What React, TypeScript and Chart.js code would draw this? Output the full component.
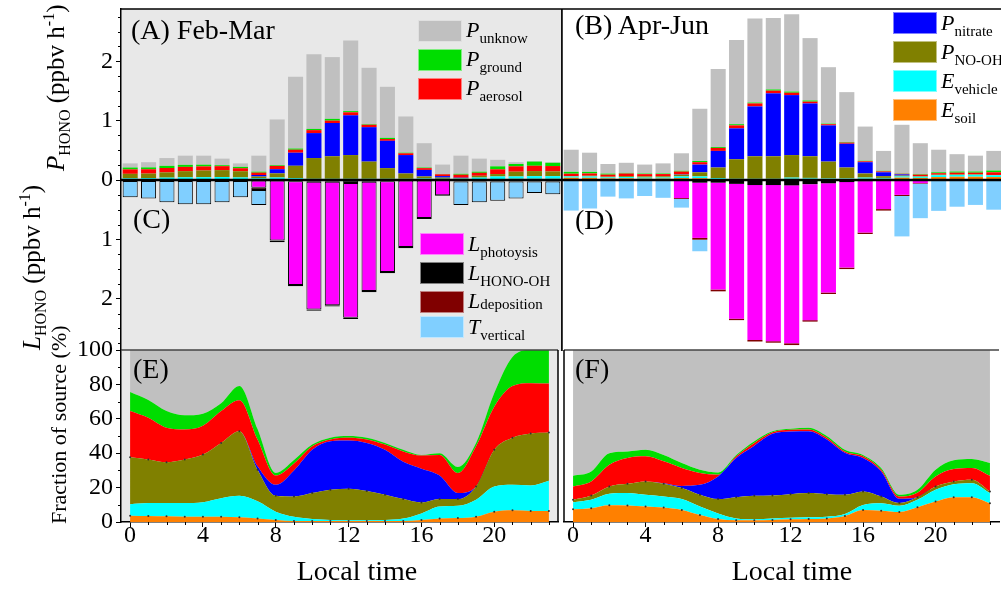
import React, { useEffect, useRef } from "react";
import { Chart, registerables } from "chart.js";

Chart.register(...registerables);

const SERIF = '"Liberation Serif", "Times New Roman", serif';

const HOURS = [0, 1, 2, 3, 4, 5, 6, 7, 8, 9, 10, 11, 12, 13, 14, 15, 16, 17, 18, 19, 20, 21, 22, 23];
const X_MAJOR = [0, 4, 8, 12, 16, 20];
const Y_MAJOR_RATE = [-2, -1, 0, 1, 2];
const Y_MAJOR_FRAC = [0, 20, 40, 60, 80, 100];

// ---- Feb-Mar: HONO production terms (ppbv h-1) ----
const FM_SOIL = [0.010, 0.010, 0.012, 0.013, 0.013, 0.011, 0.008, 0.009, 0.012, 0.010, 0.010, 0.010, 0.010, 0.010, 0.010, 0.010, 0.010, 0.006, 0.009, 0.011, 0.015, 0.020, 0.020, 0.020];
const FM_VEHICLE = [0.018, 0.022, 0.028, 0.032, 0.034, 0.039, 0.035, 0.020, 0.030, 0.020, 0.010, 0.010, 0.010, 0.010, 0.010, 0.010, 0.015, 0.015, 0.015, 0.030, 0.045, 0.040, 0.045, 0.045];
const FM_NO_OH = [0.076, 0.076, 0.088, 0.104, 0.113, 0.116, 0.105, 0.030, 0.070, 0.210, 0.350, 0.380, 0.400, 0.290, 0.180, 0.090, 0.035, 0.020, 0.010, 0.030, 0.040, 0.080, 0.085, 0.080];
const FM_NITRATE = [0, 0, 0, 0, 0, 0, 0, 0.025, 0.070, 0.220, 0.420, 0.560, 0.670, 0.580, 0.460, 0.310, 0.110, 0.025, 0.005, 0, 0, 0, 0, 0];
const FM_AEROSOL = [0.075, 0.073, 0.074, 0.072, 0.069, 0.067, 0.050, 0.040, 0.055, 0.050, 0.050, 0.040, 0.050, 0.040, 0.030, 0.030, 0.030, 0.030, 0.050, 0.050, 0.080, 0.090, 0.090, 0.090];
const FM_GROUND = [0.031, 0.031, 0.036, 0.034, 0.029, 0.016, 0.023, 0.016, 0.012, 0.020, 0.020, 0.030, 0.020, 0.010, 0.020, 0.010, 0.010, 0.004, 0.015, 0.019, 0.050, 0.040, 0.070, 0.055];
const FM_UNKNOWN = [0.070, 0.088, 0.132, 0.155, 0.152, 0.111, 0.059, 0.270, 0.771, 1.210, 1.260, 1.040, 1.190, 0.950, 0.860, 0.610, 0.410, 0.160, 0.306, 0.220, 0.110, 0.030, 0.010, 0.010];

// ---- Feb-Mar: HONO loss / transport terms (ppbv h-1, negative) ----
const FM_L_OH = [-0.003, -0.003, -0.003, -0.003, -0.003, -0.003, -0.003, -0.010, -0.010, -0.020, -0.030, -0.030, -0.050, -0.030, -0.020, -0.010, -0.010, -0.005, -0.005, -0.005, -0.005, -0.005, -0.005, -0.005];
const FM_L_PHOTO = [0, 0, 0, 0, 0, 0, 0, -0.120, -1.010, -1.750, -2.150, -2.080, -2.270, -1.840, -1.530, -1.120, -0.630, -0.250, 0, 0, 0, 0, 0, 0];
const FM_L_DEP = [-0.012, -0.012, -0.015, -0.015, -0.015, -0.015, -0.012, -0.040, -0.030, -0.020, -0.020, -0.020, -0.020, -0.020, -0.020, -0.020, -0.015, -0.015, -0.020, -0.020, -0.020, -0.020, -0.020, -0.020];
const FM_T_VERT = [-0.275, -0.295, -0.357, -0.392, -0.392, -0.357, -0.275, -0.250, 0, 0, 0, 0, 0, 0, 0, 0, 0, 0, -0.395, -0.350, -0.325, -0.285, -0.195, -0.215];

// ---- Apr-Jun: HONO production terms (ppbv h-1) ----
const AJ_SOIL = [0.038, 0.037, 0.026, 0.028, 0.023, 0.024, 0.032, 0.030, 0.015, 0.010, 0.010, 0.010, 0.020, 0.020, 0.020, 0.020, 0.020, 0.020, 0.040, 0.035, 0.050, 0.055, 0.055, 0.050];
const AJ_VEHICLE = [0.021, 0.023, 0.018, 0.021, 0.018, 0.018, 0.028, 0.030, 0.015, 0.010, 0.010, 0.010, 0.020, 0.015, 0.010, 0.010, 0.020, 0.015, 0.020, 0.020, 0.030, 0.030, 0.032, 0.030];
const AJ_NO_OH = [0.007, 0.012, 0.012, 0.016, 0.020, 0.021, 0.029, 0.070, 0.180, 0.330, 0.380, 0.380, 0.380, 0.365, 0.280, 0.180, 0.070, 0.030, 0.015, 0.010, 0.010, 0.008, 0.008, 0.005];
const AJ_NITRATE = [0, 0, 0, 0, 0, 0.001, 0.006, 0.130, 0.280, 0.520, 0.840, 1.060, 1.010, 0.890, 0.610, 0.400, 0.190, 0.065, 0.020, 0, 0, 0, 0, 0];
const AJ_AEROSOL = [0.040, 0.038, 0.034, 0.044, 0.038, 0.036, 0.047, 0.040, 0.050, 0.050, 0.050, 0.045, 0.040, 0.030, 0.020, 0.020, 0.015, 0.015, 0.010, 0.025, 0.025, 0.030, 0.028, 0.045];
const AJ_GROUND = [0.032, 0.027, 0.018, 0.011, 0.010, 0.010, 0.013, 0.020, 0.015, 0.020, 0.015, 0.020, 0.020, 0.020, 0.010, 0.010, 0.010, 0.010, 0.005, 0.010, 0.015, 0.020, 0.020, 0.030];
const AJ_UNKNOWN = [0.372, 0.323, 0.162, 0.170, 0.151, 0.170, 0.295, 0.880, 1.315, 1.420, 1.415, 1.205, 1.300, 1.050, 0.950, 0.840, 0.575, 0.335, 0.820, 0.520, 0.380, 0.292, 0.267, 0.330];

// ---- Apr-Jun: HONO loss / transport terms (ppbv h-1, negative) ----
const AJ_L_OH = [-0.003, -0.003, -0.003, -0.003, -0.003, -0.003, -0.005, -0.045, -0.045, -0.065, -0.085, -0.085, -0.090, -0.070, -0.055, -0.035, -0.020, -0.010, -0.005, -0.003, -0.003, -0.003, -0.003, -0.003];
const AJ_L_PHOTO = [0, 0, 0, 0, 0, 0, -0.300, -0.930, -1.800, -2.270, -2.610, -2.630, -2.660, -2.290, -1.840, -1.440, -0.865, -0.480, -0.245, -0.050, 0, 0, 0, 0];
const AJ_L_DEP = [-0.005, -0.005, -0.005, -0.005, -0.005, -0.007, -0.015, -0.030, -0.030, -0.025, -0.025, -0.025, -0.030, -0.025, -0.025, -0.025, -0.025, -0.025, -0.020, -0.010, -0.010, -0.010, -0.010, -0.010];
const AJ_T_VERT = [-0.507, -0.472, -0.272, -0.302, -0.262, -0.290, -0.145, -0.195, 0, 0, 0, 0, 0, 0, 0, 0, 0, 0, -0.680, -0.580, -0.507, -0.437, -0.407, -0.487];

// ---- Feb-Mar: fraction of each source (%) ----
const FMF_SOIL = [3.7, 3.5, 3.3, 3.1, 3.1, 3.1, 2.7, 2.1, 1.2, 0.6, 0.6, 0.6, 0.6, 0.6, 0.6, 0.6, 1.2, 2.1, 2.3, 3.1, 6.0, 6.8, 6.4, 6.4];
const FMF_VEHICLE = [6.6, 7.5, 7.7, 7.9, 8.4, 10.7, 12.5, 9.9, 4.8, 2.4, 1.2, 0.6, 0.4, 0.4, 0.6, 1.4, 3.8, 6.9, 7.1, 9.9, 14.7, 14.8, 14.8, 17.6];
const FMF_NO_OH = [27.3, 25.3, 23.7, 25.3, 27.7, 32.2, 37.6, 18.4, 9.2, 11.8, 15.0, 17.5, 18.3, 17.0, 14.6, 11.3, 6.3, 4.3, 3.9, 7.7, 21.3, 27.4, 30.3, 28.0];
const FMF_NITRATE = [0, 0, 0, 0, 0, 0, 0, 2.0, 6.4, 15.2, 25.2, 28.3, 28.1, 28.0, 26.2, 21.7, 19.7, 13.7, 3.5, 0, 0, 0, 0, 0];
const FMF_AEROSOL = [26.9, 24.3, 20.1, 17.5, 16.8, 18.5, 18.0, 15.6, 5.4, 4.0, 2.0, 1.0, 1.6, 2.0, 3.0, 6.0, 7.6, 12.0, 11.7, 23.3, 25.0, 30.0, 29.2, 28.5];
const FMF_GROUND = [11.1, 10.4, 9.7, 8.2, 7.0, 4.5, 8.2, 6.0, 1.5, 2.0, 1.0, 1.0, 1.0, 1.0, 1.0, 1.0, 0.4, 1.0, 3.5, 2.0, 8.0, 17.0, 19.3, 19.5];
const FMF_UNKNOWN = [24.4, 29.0, 35.5, 38.0, 37.0, 31.0, 21.0, 46.0, 71.5, 64.0, 55.0, 51.0, 50.0, 51.0, 54.0, 58.0, 61.0, 60.0, 68.0, 54.0, 25.0, 4.0, 0, 0];

// ---- Apr-Jun: fraction of each source (%) ----
const AJF_SOIL = [7.4, 8.0, 9.7, 9.6, 9.0, 8.4, 7.0, 4.1, 1.8, 1.0, 1.0, 1.2, 1.6, 1.8, 2.1, 3.5, 7.0, 6.6, 5.8, 8.6, 11.9, 14.4, 14.4, 10.9];
const AJF_VEHICLE = [4.1, 4.9, 6.7, 7.2, 6.8, 6.4, 6.3, 4.9, 3.2, 1.1, 0.6, 0.9, 0.9, 0.9, 1.0, 1.2, 2.9, 4.3, 3.6, 4.3, 6.8, 7.6, 8.2, 5.9];
const AJF_NO_OH = [1.4, 2.5, 4.3, 5.4, 7.8, 7.4, 6.4, 6.8, 8.3, 12.3, 13.6, 13.3, 13.7, 14.1, 13.1, 11.1, 7.8, 3.9, 1.6, 1.5, 2.0, 1.6, 2.0, 0.9];
const AJF_NITRATE = [0, 0, 0, 0, 0, 0.4, 1.3, 5.8, 13.2, 22.8, 29.2, 35.9, 36.4, 36.0, 31.8, 24.4, 19.5, 14.6, 2.5, 0, 0, 0, 0, 0];
const AJF_AEROSOL = [7.8, 8.2, 12.6, 15.0, 14.6, 12.7, 10.4, 6.9, 1.0, 1.0, 1.6, 0.9, 1.0, 1.0, 1.0, 0.8, 1.0, 1.0, 1.3, 2.6, 5.8, 7.2, 6.8, 9.2];
const AJF_GROUND = [6.2, 5.8, 6.7, 3.8, 3.8, 3.7, 2.9, 1.9, 1.3, 0.8, 1.0, 0.6, 0.6, 1.0, 1.0, 1.0, 0.8, 1.0, 1.0, 1.7, 3.9, 5.1, 5.2, 7.4];
const AJF_UNKNOWN = [73.1, 70.6, 60.0, 59.0, 58.0, 61.0, 65.7, 69.6, 71.2, 61.0, 53.0, 47.2, 45.8, 45.2, 50.0, 58.0, 61.0, 68.6, 84.2, 81.3, 69.6, 64.1, 63.4, 65.7];

const C = {
  soil: "#FF8000",
  vehicle: "#00FFFF",
  noOh: "#808000",
  nitrate: "#0000FF",
  aerosol: "#FF0000",
  ground: "#00DD00",
  unknown: "#C0C0C0",
  lOh: "#000000",
  lPhoto: "#FF00FF",
  lDep: "#800000",
  tVert: "#80CFFF",
};

type Layer = { label: string; color: string; values: number[]; dots?: boolean };

// Panel frames, zero line, background and minor ticks
const decorPlugin: any = {
  id: "decor",
  beforeDraw(chart: any, _a: any, o: any) {
    if (!o || !o.bg) return;
    const { ctx, chartArea: a } = chart;
    ctx.save();
    ctx.fillStyle = o.bg;
    ctx.fillRect(a.left, a.top, a.right - a.left, a.bottom - a.top);
    ctx.restore();
  },
  afterDatasetsDraw(chart: any, _a: any, o: any) {
    if (!o) return;
    const { ctx, chartArea: a, scales } = chart;
    ctx.save();
    if (o.zeroLine) {
      const y = scales.y.getPixelForValue(0);
      ctx.strokeStyle = "#000";
      ctx.lineWidth = 2.4;
      ctx.beginPath();
      ctx.moveTo(a.left, y);
      ctx.lineTo(a.right, y);
      ctx.stroke();
    }
    const edges = o.edges || [];
    for (let i = 0; i < edges.length; i++) {
      const e = edges[i];
      ctx.strokeStyle = e.color;
      ctx.lineWidth = e.width;
      ctx.beginPath();
      if (e.side === "top") { ctx.moveTo(a.left, a.top); ctx.lineTo(a.right, a.top); }
      if (e.side === "bottom") { ctx.moveTo(a.left, a.bottom); ctx.lineTo(a.right, a.bottom); }
      if (e.side === "left") { ctx.moveTo(a.left, a.top); ctx.lineTo(a.left, a.bottom); }
      if (e.side === "right") { ctx.moveTo(a.right, a.top); ctx.lineTo(a.right, a.bottom); }
      ctx.stroke();
    }
    const minor = o.minor || [];
    ctx.strokeStyle = "#000";
    ctx.lineWidth = 1;
    for (let i = 0; i < minor.length; i++) {
      const m = minor[i];
      const s = scales[m.axis];
      for (let v = m.from; v <= m.to + 1e-9; v += m.step) {
        const r = v / m.major;
        if (Math.abs(r - Math.round(r)) < 1e-6) continue;
        const p = Math.round(s.getPixelForValue(v)) + 0.5;
        ctx.beginPath();
        if (m.axis === "y") { ctx.moveTo(a.left - m.len, p); ctx.lineTo(a.left, p); }
        else { ctx.moveTo(p, a.bottom); ctx.lineTo(p, a.bottom + m.len); }
        ctx.stroke();
      }
    }
    ctx.restore();
  },
};
Chart.register(decorPlugin);

const tickFont = { family: SERIF, size: 24 };
const xTickFont = { family: SERIF, size: 24, lineHeight: 1 };

// fixed-size axis boxes so every panel lines up on the same pixel grid
const fixWidth = (w: number) => (s: any) => {
  s.width = w;
  s.paddingTop = 0;
  s.paddingBottom = 0;
};
const fixHeight = (h: number) => (s: any) => {
  s.height = h;
  s.paddingLeft = 0;
  s.paddingRight = 0;
};

function budgetConfig(prod: Layer[], loss: Layer[], outlined: boolean, showAxis: boolean, decor: any): any {
  const datasets = [
    ...prod.map((l) => ({
      label: l.label,
      data: l.values,
      backgroundColor: l.color,
      borderWidth: 0,
    })),
    ...loss.map((l) => ({
      label: l.label,
      data: l.values,
      backgroundColor: l.color,
      borderColor: "#000",
      borderWidth: outlined ? 1 : 0,
      borderSkipped: false,
    })),
  ];
  const y: any = {
    display: showAxis,
    stacked: true,
    min: -2.88,
    max: 2.88,
    afterBuildTicks: (s: any) => { s.ticks = Y_MAJOR_RATE.map((v) => ({ value: v })); },
    ticks: {
      autoSkip: false,
      font: tickFont,
      color: "#000",
      padding: 3,
      callback: (v: any) => String(Math.abs(Number(v))),
    },
    grid: { drawOnChartArea: false, tickLength: 5, tickColor: "#000", tickWidth: 1 },
    border: { display: true, color: "#000", width: 1.5 },
  };
  if (showAxis) y.afterFit = fixWidth(121);
  return {
    type: "bar",
    data: { labels: HOURS.map(String), datasets },
    options: {
      animation: false,
      responsive: false,
      maintainAspectRatio: false,
      events: [],
      layout: { padding: { top: 9, left: showAxis ? 0 : 2, right: 0, bottom: 0 } },
      datasets: { bar: { barPercentage: 0.82, categoryPercentage: 1 } },
      plugins: { legend: { display: false }, tooltip: { enabled: false }, decor },
      scales: {
        x: { display: false, stacked: true },
        y,
      },
    },
  };
}

function fractionConfig(layers: Layer[], showY: boolean, decor: any): any {
  const datasets = layers.map((l, i) => ({
    label: l.label,
    data: l.values.map((v, k) => ({ x: HOURS[k], y: v })),
    backgroundColor: l.color,
    borderColor: "rgba(0,0,0,0)",
    borderWidth: 0,
    fill: i === 0 ? "origin" : "-1",
    cubicInterpolationMode: "monotone",
    pointRadius: l.dots ? 1 : 0,
    pointBackgroundColor: "#333",
    pointBorderWidth: 0,
  }));
  const y: any = {
    display: showY,
    stacked: true,
    min: 0,
    max: 100,
    afterBuildTicks: (s: any) => { s.ticks = Y_MAJOR_FRAC.map((v) => ({ value: v })); },
    ticks: { autoSkip: false, font: tickFont, color: "#000", padding: 3 },
    grid: { drawOnChartArea: false, tickLength: 5, tickColor: "#000", tickWidth: 1 },
    border: { display: true, color: "#000", width: 1.5 },
  };
  if (showY) y.afterFit = fixWidth(121);
  return {
    type: "line",
    data: { datasets },
    options: {
      animation: false,
      responsive: false,
      maintainAspectRatio: false,
      events: [],
      layout: { padding: { top: 10, left: showY ? 0 : 2, right: 0, bottom: 0 } },
      plugins: { legend: { display: false }, tooltip: { enabled: false }, decor },
      scales: {
        x: {
          type: "linear",
          min: -0.5,
          max: 23.5,
          afterFit: fixHeight(68),
          afterBuildTicks: (s: any) => { s.ticks = X_MAJOR.map((v) => ({ value: v })); },
          ticks: { autoSkip: false, maxRotation: 0, font: xTickFont, color: "#000", padding: -3 },
          grid: { drawOnChartArea: false, tickLength: 5, tickColor: "#000", tickWidth: 1 },
          border: { display: true, color: "#000", width: 1.5 },
        },
        y,
      },
    },
  };
}

const fmProd: Layer[] = [
  { label: "E soil", color: C.soil, values: FM_SOIL },
  { label: "E vehicle", color: C.vehicle, values: FM_VEHICLE },
  { label: "P NO-OH", color: C.noOh, values: FM_NO_OH },
  { label: "P nitrate", color: C.nitrate, values: FM_NITRATE },
  { label: "P aerosol", color: C.aerosol, values: FM_AEROSOL },
  { label: "P ground", color: C.ground, values: FM_GROUND },
  { label: "P unknow", color: C.unknown, values: FM_UNKNOWN },
];
const fmLoss: Layer[] = [
  { label: "L HONO-OH", color: C.lOh, values: FM_L_OH },
  { label: "L photoysis", color: C.lPhoto, values: FM_L_PHOTO },
  { label: "L deposition", color: C.lDep, values: FM_L_DEP },
  { label: "T vertical", color: C.tVert, values: FM_T_VERT },
];
const ajProd: Layer[] = [
  { label: "E soil", color: C.soil, values: AJ_SOIL },
  { label: "E vehicle", color: C.vehicle, values: AJ_VEHICLE },
  { label: "P NO-OH", color: C.noOh, values: AJ_NO_OH },
  { label: "P nitrate", color: C.nitrate, values: AJ_NITRATE },
  { label: "P aerosol", color: C.aerosol, values: AJ_AEROSOL },
  { label: "P ground", color: C.ground, values: AJ_GROUND },
  { label: "P unknow", color: C.unknown, values: AJ_UNKNOWN },
];
const ajLoss: Layer[] = [
  { label: "L HONO-OH", color: C.lOh, values: AJ_L_OH },
  { label: "L photoysis", color: C.lPhoto, values: AJ_L_PHOTO },
  { label: "L deposition", color: C.lDep, values: AJ_L_DEP },
  { label: "T vertical", color: C.tVert, values: AJ_T_VERT },
];
const fmFrac: Layer[] = [
  { label: "E soil", color: C.soil, values: FMF_SOIL, dots: true },
  { label: "E vehicle", color: C.vehicle, values: FMF_VEHICLE },
  { label: "P NO-OH", color: C.noOh, values: FMF_NO_OH, dots: true },
  { label: "P nitrate", color: C.nitrate, values: FMF_NITRATE },
  { label: "P aerosol", color: C.aerosol, values: FMF_AEROSOL },
  { label: "P ground", color: C.ground, values: FMF_GROUND },
  { label: "P unknow", color: C.unknown, values: FMF_UNKNOWN },
];
const ajFrac: Layer[] = [
  { label: "E soil", color: C.soil, values: AJF_SOIL, dots: true },
  { label: "E vehicle", color: C.vehicle, values: AJF_VEHICLE },
  { label: "P NO-OH", color: C.noOh, values: AJF_NO_OH, dots: true },
  { label: "P nitrate", color: C.nitrate, values: AJF_NITRATE },
  { label: "P aerosol", color: C.aerosol, values: AJF_AEROSOL },
  { label: "P ground", color: C.ground, values: AJF_GROUND },
  { label: "P unknow", color: C.unknown, values: AJF_UNKNOWN },
];

const FRAME = "#000";
const SPLIT = "#444";

function Key(props: { x: number; y: number; color: string; main: string; sub: string; drop?: number }) {
  const { x, y, color, main, sub } = props;
  const drop = props.drop === undefined ? 6 : props.drop;
  return (
    <>
      <div style={{ position: "absolute", left: x, top: y, width: 44, height: 22, background: color, boxSizing: "border-box", border: "1px solid rgba(255,255,255,0.5)" }} />
      <div style={{ position: "absolute", left: x + 48, top: y + 18 - 18.4, fontSize: 22, lineHeight: 1, whiteSpace: "nowrap" }}>
        <i>{main}</i>
        <span style={{ fontSize: 15, position: "relative", top: drop }}>{sub}</span>
      </div>
    </>
  );
}

function PanelTag(props: { x: number; baseline: number; text: string }) {
  return (
    <div style={{ position: "absolute", left: props.x, top: props.baseline - 23.45, fontSize: 28, lineHeight: 1, whiteSpace: "nowrap" }}>
      {props.text}
    </div>
  );
}

function VTitle(props: { x: number; y: number; size: number; children: any }) {
  return (
    <div style={{ position: "absolute", left: props.x, top: props.y, transformOrigin: "0 0", transform: "rotate(-90deg)", fontSize: props.size, lineHeight: 1, whiteSpace: "nowrap" }}>
      {props.children}
    </div>
  );
}

export default function App() {
  const tl = useRef<HTMLCanvasElement>(null);
  const tr = useRef<HTMLCanvasElement>(null);
  const bl = useRef<HTMLCanvasElement>(null);
  const br = useRef<HTMLCanvasElement>(null);

  useEffect(() => {
    const charts = [
      new Chart(tl.current as any, budgetConfig(fmProd, fmLoss, true, true, {
        bg: "#E8E8E8",
        zeroLine: true,
        edges: [{ side: "top", color: FRAME, width: 1.5 }, { side: "right", color: FRAME, width: 1.5 }],
        minor: [{ axis: "y", from: -2.75, to: 2.75, step: 0.25, major: 1, len: 3 }],
      })),
      new Chart(tr.current as any, budgetConfig(ajProd, ajLoss, false, false, {
        zeroLine: true,
        edges: [{ side: "top", color: FRAME, width: 1.5 }, { side: "left", color: FRAME, width: 1.5 }],
        minor: [],
      })),
      new Chart(bl.current as any, fractionConfig(fmFrac, true, {
        bg: "#E8E8E8",
        edges: [{ side: "top", color: SPLIT, width: 1.5 }, { side: "right", color: FRAME, width: 1.5 }],
        minor: [
          { axis: "y", from: 10, to: 90, step: 10, major: 20, len: 3 },
          { axis: "x", from: 0, to: 23, step: 1, major: 4, len: 3 },
        ],
      })),
      new Chart(br.current as any, fractionConfig(ajFrac, false, {
        edges: [{ side: "top", color: SPLIT, width: 1.5 }, { side: "left", color: FRAME, width: 1.5 }],
        minor: [{ axis: "x", from: 0, to: 23, step: 1, major: 4, len: 3 }],
      })),
    ];
    return () => charts.forEach((c) => c.destroy());
  }, []);

  return (
    <div style={{ position: "absolute", left: 0, top: 0, width: 1001, height: 590, overflow: "hidden", background: "#fff", fontFamily: SERIF, color: "#000" }}>
      <canvas ref={tl} width={562} height={351} style={{ position: "absolute", left: 0, top: 0, width: 562, height: 351 }} />
      <canvas ref={tr} width={443} height={351} style={{ position: "absolute", left: 560, top: 0, width: 443, height: 351 }} />
      <canvas ref={bl} width={562} height={250} style={{ position: "absolute", left: 0, top: 340, width: 562, height: 250 }} />
      <canvas ref={br} width={443} height={250} style={{ position: "absolute", left: 560, top: 340, width: 443, height: 250 }} />

      <PanelTag x={131} baseline={39} text="(A) Feb-Mar" />
      <PanelTag x={575} baseline={34} text="(B) Apr-Jun" />
      <PanelTag x={133} baseline={228} text="(C)" />
      <PanelTag x={575} baseline={229} text="(D)" />
      <PanelTag x={133} baseline={378} text="(E)" />
      <PanelTag x={575} baseline={378} text="(F)" />

      <Key x={418} y={19.5} color={C.unknown} main="P" sub="unknow" />
      <Key x={418} y={48.5} color={C.ground} main="P" sub="ground" />
      <Key x={418} y={77.5} color={C.aerosol} main="P" sub="aerosol" />

      <Key x={893} y={12} color={C.nitrate} main="P" sub="nitrate" />
      <Key x={893} y={41} color={C.noOh} main="P" sub="NO-OH" />
      <Key x={893} y={70} color={C.vehicle} main="E" sub="vehicle" />
      <Key x={893} y={99} color={C.soil} main="E" sub="soil" />

      <Key x={420} y={233} color={C.lPhoto} main="L" sub="photoysis" />
      <Key x={420} y={262} color={C.lOh} main="L" sub="HONO-OH" />
      <Key x={420} y={290.5} color={C.lDep} main="L" sub="deposition" drop={1} />
      <Key x={420} y={316} color={C.tVert} main="T" sub="vertical" />

      <VTitle x={43} y={171} size={25}>
        <i>P</i>
        <span style={{ fontSize: 16, position: "relative", top: 6 }}>HONO</span> (ppbv h
        <span style={{ fontSize: 16, position: "relative", top: -10 }}>-1</span>)
      </VTitle>
      <VTitle x={19} y={350} size={25}>
        <i>L</i>
        <span style={{ fontSize: 16, position: "relative", top: 6 }}>HONO</span> (ppbv h
        <span style={{ fontSize: 16, position: "relative", top: -10 }}>-1</span>)
      </VTitle>
      <VTitle x={48} y={524} size={22}>Fraction of source (%)</VTitle>

      <div style={{ position: "absolute", left: 357, top: 580 - 23.45, transform: "translateX(-50%)", fontSize: 28, lineHeight: 1, whiteSpace: "nowrap" }}>Local time</div>
      <div style={{ position: "absolute", left: 792, top: 580 - 23.45, transform: "translateX(-50%)", fontSize: 28, lineHeight: 1, whiteSpace: "nowrap" }}>Local time</div>
    </div>
  );
}
